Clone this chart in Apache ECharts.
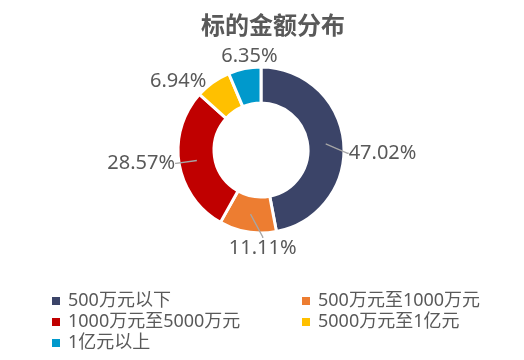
<!DOCTYPE html>
<html>
<head>
<meta charset="utf-8">
<script src="https://cdn.jsdelivr.net/npm/echarts@6/dist/echarts.min.js"></script>
<style>
html,body{margin:0;padding:0;background:#fff;}
#chart{width:524px;height:360px;}
</style>
</head>
<body>
<div id="chart"></div>
<script>
const titleText = '标的金额分布';
const categories = ['500万元以下', '500万元至1000万元', '1000万元至5000万元', '5000万元至1亿元', '1亿元以上'];
const values = [47.02, 11.11, 28.57, 6.94, 6.35];
const colors = ['#3B4468', '#ED7D31', '#C00000', '#FFC000', '#0099CC'];
// label nudges (pixels) relative to the library's default outside placement
const labelShift = [[0, 11], [54, 16], [-3, 0], [5, -9], [38, -12]];
const showLeader = [true, true, true, false, false];

const data = categories.map((c, i) => ({ name: c, value: values[i], itemStyle: { color: colors[i] } }));
const labelData = categories.map((c, i) => ({
  name: c, value: values[i],
  labelLine: { show: showLeader[i] }
}));

const fontFam = "'Noto Sans', 'Noto Sans CJK SC', sans-serif";
const chart = echarts.init(document.getElementById('chart'), null, { renderer: 'canvas' });
chart.setOption({
  backgroundColor: '#fff',
  animation: false,
  title: {
    text: titleText, left: 196, top: 8,
    textStyle: { fontFamily: "'Noto Sans CJK SC', sans-serif", fontSize: 24, fontWeight: 'bold', color: '#595959' }
  },
  legend: [
    {
      orient: 'vertical', left: 50, top: 292, padding: 0, itemWidth: 10, itemHeight: 10, itemGap: 3, icon: 'rect',
      data: [categories[0], categories[2], categories[4]],
      textStyle: { fontFamily: fontFam, fontSize: 18, color: '#595959', lineHeight: 18, padding: [0, 0, 0, 2] }
    },
    {
      orient: 'vertical', left: 300, top: 292, padding: 0, itemWidth: 10, itemHeight: 10, itemGap: 3, icon: 'rect',
      data: [categories[1], categories[3]],
      textStyle: { fontFamily: fontFam, fontSize: 18, color: '#595959', lineHeight: 18, padding: [0, 0, 0, 2] }
    }
  ],
  series: [
    {
      type: 'pie', center: [261, 150], radius: [47, 83], startAngle: 90, clockwise: true,
      z: 2, silent: true,
      itemStyle: { borderColor: '#fff', borderWidth: 3 },
      label: { show: false }, labelLine: { show: false },
      data: data
    },
    {
      type: 'pie', center: [261, 150], radius: [0, 65], startAngle: 90, clockwise: true,
      z: 3, silent: true, legendHoverLink: false,
      itemStyle: { color: 'rgba(0,0,0,0)' },
      label: {
        show: true, position: 'outside', fontFamily: fontFam, fontSize: 20, color: '#595959',
        formatter: p => p.value.toFixed(2) + '%', distanceToLabelLine: 4
      },
      labelLine: { show: true, length: 18, length2: 1, lineStyle: { color: '#A6A6A6', width: 1.3 } },
      labelLayout: p => {
        const r = p.labelRect;
        const s = labelShift[p.dataIndex];
        return { x: r.x + r.width / 2 + s[0], y: r.y + r.height / 2 + s[1], align: 'center', verticalAlign: 'middle' };
      },
      data: labelData
    }
  ]
});
</script>
</body>
</html>
